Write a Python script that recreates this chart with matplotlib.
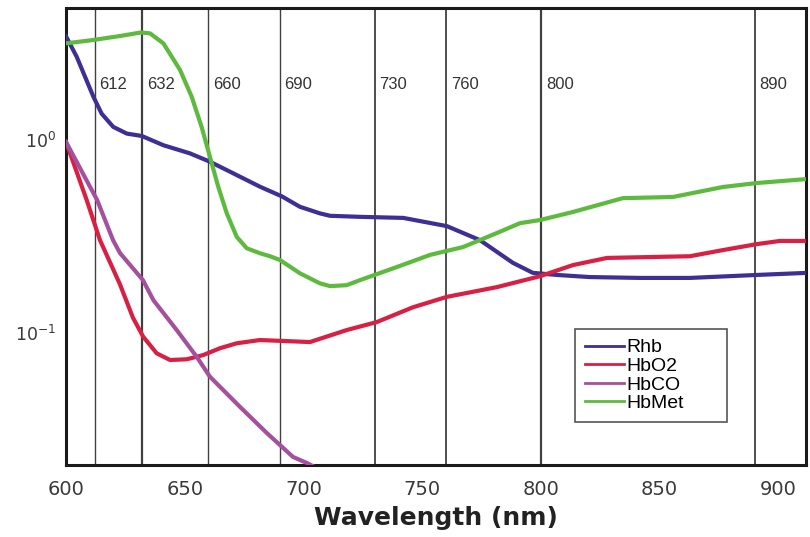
import numpy as np
import matplotlib
matplotlib.use('Agg')
import matplotlib.pyplot as plt
from matplotlib.ticker import LogLocator, NullLocator, FixedLocator

# absorbance curves (wavelength in nm)
rhb_nm = [600, 604.5, 608, 611.5, 615, 619.9, 625.6, 631.9, 641, 652.2, 660.6, 669.1,
          681.7, 691, 698.5, 706.9, 711.2, 723.8, 742, 760.4, 774.3, 788.2, 796.6, 806.7,
          820.6, 841.7, 862.7, 891, 912]
rhb_abs = [3.45, 2.70, 2.13, 1.68, 1.37, 1.17, 1.08, 1.05, 0.94, 0.853, 0.772, 0.685,
           0.573, 0.51, 0.451, 0.417, 0.405, 0.40, 0.395, 0.358, 0.303, 0.231, 0.205, 0.2,
           0.195, 0.193, 0.193, 0.2, 0.205]

hbo2_nm = [600, 608.7, 614.3, 622.7, 628.2, 632.5, 638.2, 643.8, 650.8, 657.8, 664.8,
           671.9, 681.7, 702.7, 718.3, 730.9, 746.1, 760.4, 781.5, 799.6, 813.5, 827.8,
           862.7, 876.6, 891, 900.6, 912]
hbo2_abs = [0.977, 0.489, 0.303, 0.179, 0.12, 0.0957, 0.0785, 0.0725, 0.0731, 0.0769,
            0.0834, 0.0885, 0.092, 0.0898, 0.1037, 0.114, 0.136, 0.154, 0.173, 0.197,
            0.225, 0.245, 0.25, 0.269, 0.289, 0.30, 0.30]

hbco_nm = [600, 613.1, 619.8, 622.7, 632.4, 636.8, 646.6, 655, 660.6, 673.3, 684.6,
           695.6, 701.5, 707]
hbco_abs = [0.977, 0.489, 0.303, 0.26, 0.188, 0.148, 0.1037, 0.0754, 0.0594, 0.0414,
            0.0303, 0.0228, 0.0212, 0.0195]

hbmet_nm = [600, 611.5, 622.7, 631.6, 635.4, 641, 648, 652.9, 657.1, 660.6, 664.1, 667.7,
            671.9, 676.1, 681.7, 685.9, 690.1, 698.5, 706.9, 711.2, 718.2, 723.8, 739.4,
            753.3, 767.2, 781.5, 791.2, 799.6, 813.5, 834.5, 855.6, 876.6, 891, 912]
hbmet_abs = [3.17, 3.30, 3.46, 3.61, 3.57, 3.17, 2.31, 1.68, 1.17, 0.819, 0.573, 0.417,
             0.315, 0.275, 0.259, 0.25, 0.239, 0.204, 0.181, 0.175, 0.177, 0.188, 0.22,
             0.254, 0.279, 0.33, 0.371, 0.385, 0.424, 0.50, 0.507, 0.571, 0.599, 0.628]

marker_nm = [612, 632, 660, 690, 730, 760, 800, 890]
marker_lw = [1.0, 1.6, 1.0, 1.0, 1.3, 1.3, 1.6, 1.3]

x_ticks = [600, 650, 700, 750, 800, 850, 900]

fig = plt.figure(figsize=(8.1, 5.37), dpi=100)
ax = fig.add_axes([0.0815, 0.134, 0.9135, 0.851])

for v, w in zip(marker_nm, marker_lw):
    ax.axvline(v, color='#404040', lw=w, zorder=1)
    ax.annotate(str(v), xy=(v, 1.93), xytext=(3.5, 0), textcoords='offset points',
                va='center', ha='left', fontsize=12, color='#333333',
                family='Liberation Sans', zorder=2)

ax.plot(rhb_nm, rhb_abs, color='#3d2f95', lw=3, label='Rhb', solid_joinstyle='round', zorder=3)
ax.plot(hbo2_nm, hbo2_abs, color='#d81f44', lw=3, label='HbO2', solid_joinstyle='round', zorder=3)
ax.plot(hbco_nm, hbco_abs, color='#a4509e', lw=3, label='HbCO', solid_joinstyle='round', zorder=3)
ax.plot(hbmet_nm, hbmet_abs, color='#5dba3e', lw=3, label='HbMet', solid_joinstyle='round', zorder=3)

ax.set_yscale('log')
ax.set_xlim(600, 911.6)
ax.set_ylim(0.0207, 4.83)
ax.xaxis.set_major_locator(FixedLocator(x_ticks))
ax.yaxis.set_major_locator(LogLocator(base=10))
ax.yaxis.set_minor_locator(NullLocator())
ax.tick_params(axis='x', length=0, pad=11, labelsize=14, labelcolor='#3a3a3a')
ax.tick_params(axis='y', length=0, pad=7, labelsize=12.5, labelcolor='#3a3a3a')

for s in ax.spines.values():
    s.set_linewidth(2.2)
    s.set_color('#1a1a1a')

ax.set_xlabel('Wavelength (nm)', fontsize=18, fontweight='bold', color='#222222', labelpad=5)

leg = ax.legend(loc='upper left', bbox_to_anchor=(0.6878, 0.0, 0.2054, 0.2976), mode='expand',
                borderaxespad=0, fancybox=False, framealpha=1, edgecolor='#555555',
                handlelength=2.0, handletextpad=0.15, labelspacing=0.05, borderpad=0.5,
                prop={'family': 'Liberation Sans', 'size': 14})
leg.get_frame().set_linewidth(1.2)
for line in leg.get_lines():
    line.set_linewidth(2)

fig.savefig('out.png', dpi=100)
